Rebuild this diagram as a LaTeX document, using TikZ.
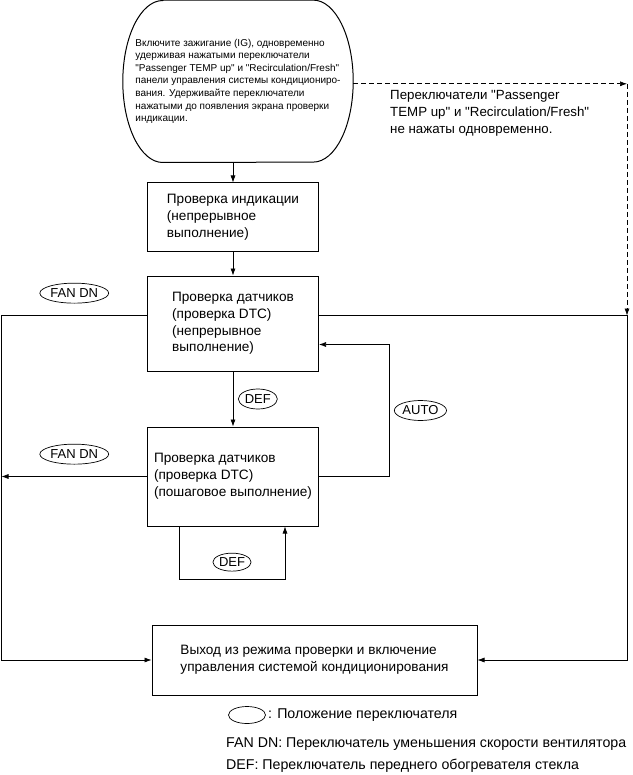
\documentclass[tikz,border=0pt]{standalone}
\usepackage{fontspec}
\setmainfont{Liberation Sans}[Ligatures=TeXOff]
\usetikzlibrary{shapes.geometric, arrows.meta, positioning, calc}

\begin{document}
\begin{tikzpicture}[
        x=1pt, y=1pt,
        node distance=20pt,
        box/.style={draw, line width=1pt, minimum width=171pt,
                    align=left, font=\fontsize{13.6}{16.8}\selectfont},
        oval/.style={draw, ellipse, line width=0.7pt, inner sep=0.5pt,
                    minimum height=20pt, font=\fontsize{13}{14}\selectfont},
        note/.style={align=left, inner sep=1pt, font=\fontsize{13.3}{17}\selectfont},
        keynote/.style={note, font=\fontsize{14.2}{17}\selectfont},
        arr/.style={-{Latex[length=7pt, width=5pt]}, line width=0.6pt},
        dasharr/.style={arr, dash pattern=on 5pt off 3pt}
    ]
    \useasboundingbox (0,0) rectangle (632,-775);

    \node[box, minimum height=69pt] (check) at (233,-217.5)
        {Проверка индикации\\(непрерывное\\выполнение)};
    \node[minimum width=230pt, minimum height=162pt, inner sep=0pt, align=left,
          font=\fontsize{10}{12.6}\selectfont, above=20pt of check, xshift=5pt] (start)
        {Включите зажигание (IG), одновременно\\удерживая нажатыми переключатели\\%
         "Passenger TEMP up" и "Recirculation/Fresh"\\панели управления системы кондициониро-\\%
         вания. Удерживайте переключатели\\нажатыми до появления экрана проверки\\индикации.};
    \draw[line width=1pt] ([xshift=40pt]start.north west) -- ([xshift=-40pt]start.north east)
        arc[start angle=90, end angle=-90, x radius=40pt, y radius=81pt]
        -- ([xshift=40pt]start.south west)
        arc[start angle=270, end angle=90, x radius=40pt, y radius=81pt] -- cycle;
    \node[box, minimum height=95pt, below=23pt of check] (dtc)
        {Проверка датчиков\\(проверка DTC)\\(непрерывное\\выполнение)};
    \node[box, minimum height=99pt, below=55pt of dtc] (step)
        {Проверка датчиков\\(проверка DTC)\\(пошаговое выполнение)};
    \node[box, minimum width=325pt, minimum height=70pt, below=98pt of step, xshift=81.5pt] (exit)
        {Выход из режима проверки и включение\\управления системой кондиционирования};

    % rails on both sides
    \coordinate (leftrail) at (1.5,0);
    \coordinate (rightrail) at (627,0);
    \path ([yshift=8pt]dtc.west) coordinate (dtcl)
          ([yshift=8pt]dtc.east) coordinate (dtcr)
          ([yshift=-2.5pt]start.east) coordinate (startr);

    \draw[arr] (start.south -| check) -- (check);
    \draw[arr] (check) -- (dtc);
    \draw[arr] (dtc) -- node[oval, right=5pt, minimum width=39pt] (def1) {DEF} (step);
    \draw[arr] ([xshift=-54pt]step.south) -- ++(0,-53)
        -| node[oval, pos=0.25, above=8pt, minimum width=31pt, minimum height=18pt] (def2) {DEF}
        ([xshift=52pt]step.south);
    \draw[arr] (step.east) -- ++(70,0)
        |- node[oval, pos=0.25, right=5pt, minimum width=51pt] (auto) {AUTO}
        ([yshift=-21pt]dtc.east);
    \draw[arr] (dtcl) -| node[oval, pos=0.25, above=12pt, minimum width=66pt] (fan1) {FAN DN}
        (leftrail |- exit.west) -- (exit.west);
    \coordinate (fanend) at (leftrail |- step.west);
    \draw[arr] (step.west) -- node[oval, above=12pt, minimum width=66pt] (fan2) {FAN DN} (fanend);
    \draw[arr] (dtcr) -| (rightrail |- exit.east) -- (exit.east);

    % switches not pressed together
    \coordinate (dashturn) at (rightrail |- startr);
    \draw[dasharr] (startr) -- (dashturn);
    \draw[dasharr] (dashturn) -- (rightrail |- dtcr);
    \node[note, anchor=north west] (nosync) at (389,-89)
        {Переключатели "Passenger\\TEMP up" и "Recirculation/Fresh"\\не нажаты одновременно.};

    % legend
    \node[oval, minimum width=37pt, minimum height=17pt] (key) at (247,-715) {};
    \node[keynote, right=1pt of key] (keytxt) {: Положение переключателя};
    \node[keynote, anchor=west] (fantxt) at (225,-744)
        {FAN DN: Переключатель уменьшения скорости вентилятора};
    \node[keynote, anchor=west] (deftxt) at (225,-766)
        {DEF: Переключатель переднего обогревателя стекла};
\end{tikzpicture}
\end{document}
